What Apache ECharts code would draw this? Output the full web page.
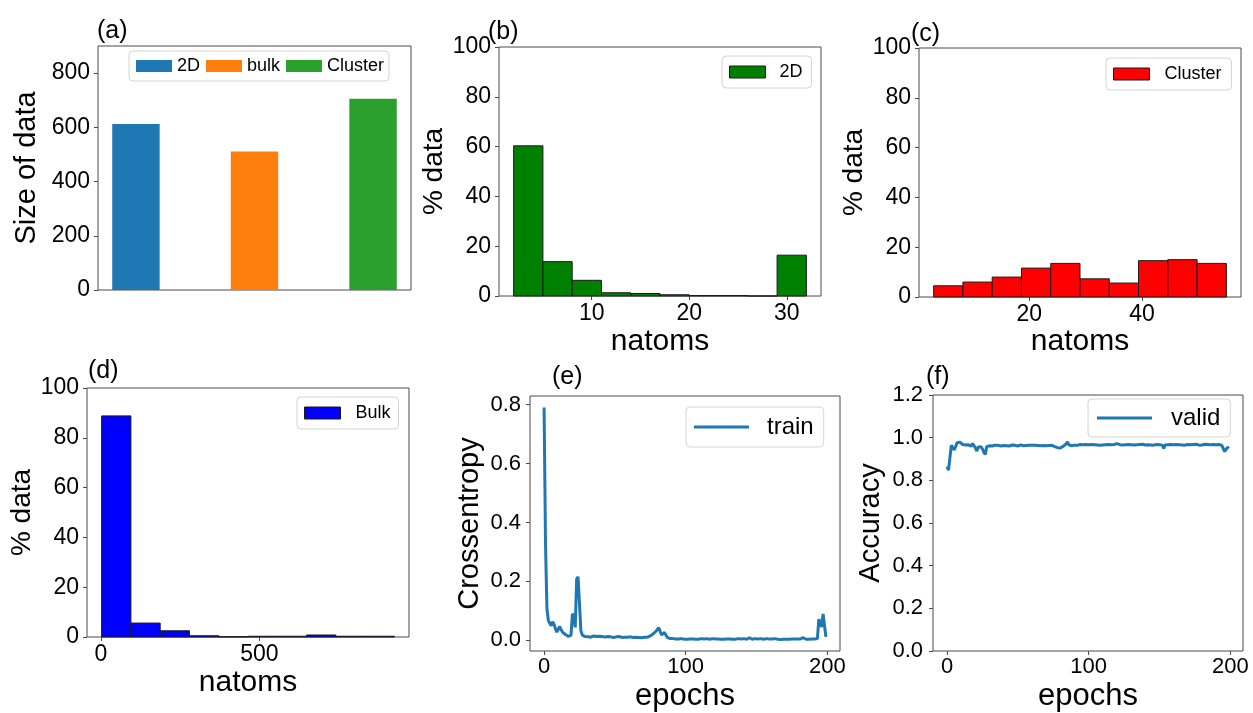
<!DOCTYPE html>
<html>
<head>
<meta charset="utf-8">
<script src="https://cdn.jsdelivr.net/npm/echarts@6/dist/echarts.min.js"></script>
<style>
  html, body { margin: 0; padding: 0; background: #fff; }
  #chart { width: 1253px; height: 713px; }
</style>
</head>
<body>
<div id="chart"></div>
<script>
// ---- (a) dataset sizes ----
const sizeCategories = ['2D', 'bulk', 'Cluster'];
const sizePositions = [0, 1, 2];
const sizeValues = [612, 511, 705];
const sizeTicks = [0, 200, 400, 600, 800];

// ---- (b) 2D structures: natoms histogram ----
const edges2D = [2, 5, 8, 11, 14, 17, 20, 23, 26, 29, 32];
const pct2D = [60.3, 13.8, 6.3, 1.3, 1.0, 0.5, 0.2, 0.2, 0.0, 16.4];
const ticks2D = [10, 20, 30];

// ---- (c) clusters: natoms histogram ----
const edgesCluster = [3, 8.2, 13.4, 18.6, 23.8, 29, 34.2, 39.4, 44.6, 49.8, 55];
const pctCluster = [4.5, 6.0, 8.0, 11.6, 13.5, 7.3, 5.6, 14.6, 15.0, 13.5];
const ticksCluster = [20, 40];

// ---- (d) bulk: natoms histogram ----
const edgesBulk = [2, 94.4, 186.8, 279.2, 371.6, 464, 556.4, 648.8, 741.2, 833.6, 926];
const pctBulk = [88.8, 5.6, 2.5, 0.5, 0.1, 0.3, 0.3, 0.8, 0.3, 0.3];
const ticksBulk = [0, 500];

const pctTicks = [0, 20, 40, 60, 80, 100];

// ---- (e) training loss per epoch ----
const trainLoss = [
  0.790, 0.330, 0.108, 0.068, 0.058, 0.050, 0.063, 0.055, 0.040, 0.028,
  0.034, 0.047, 0.037, 0.028, 0.024, 0.020, 0.017, 0.014, 0.013, 0.017,
  0.090, 0.082, 0.044, 0.208, 0.216, 0.212, 0.032, 0.018, 0.014, 0.013,
  0.013, 0.012, 0.014, 0.011, 0.013, 0.015, 0.012, 0.013, 0.011, 0.014,
  0.012, 0.013, 0.015, 0.011, 0.012, 0.013, 0.010, 0.012, 0.011, 0.010,
  0.011, 0.012, 0.010, 0.013, 0.011, 0.010, 0.012, 0.011, 0.009, 0.011,
  0.010, 0.012, 0.011, 0.010, 0.009, 0.011, 0.012, 0.010, 0.011, 0.009,
  0.010, 0.011, 0.012, 0.011, 0.013, 0.015, 0.018, 0.022, 0.027, 0.031,
  0.036, 0.043, 0.030, 0.019, 0.017, 0.027, 0.021, 0.010, 0.007, 0.006,
  0.005, 0.006, 0.004, 0.005, 0.006, 0.005, 0.004, 0.006, 0.005, 0.004,
  0.005, 0.004, 0.006, 0.005, 0.004, 0.005, 0.006, 0.004, 0.005, 0.004,
  0.005, 0.006, 0.004, 0.005, 0.004, 0.006, 0.005, 0.004, 0.005, 0.006,
  0.008, 0.005, 0.004, 0.005, 0.006, 0.004, 0.005, 0.004, 0.006, 0.005,
  0.004, 0.005, 0.006, 0.004, 0.005, 0.004, 0.005, 0.006, 0.004, 0.005,
  0.004, 0.006, 0.005, 0.004, 0.007, 0.009, 0.005, 0.004, 0.005, 0.006,
  0.004, 0.005, 0.004, 0.006, 0.005, 0.004, 0.005, 0.006, 0.004, 0.005,
  0.003, 0.005, 0.004, 0.006, 0.005, 0.004, 0.005, 0.003, 0.005, 0.004,
  0.006, 0.004, 0.005, 0.004, 0.006, 0.005, 0.004, 0.005, 0.007, 0.005,
  0.004, 0.005, 0.006, 0.009, 0.005, 0.004, 0.005, 0.004, 0.006, 0.005,
  0.004, 0.005, 0.004, 0.006, 0.072, 0.076, 0.045, 0.090, 0.095, 0.012
];
const lossTicks = [0, 0.2, 0.4, 0.6, 0.8];

// ---- (f) validation accuracy per epoch ----
const validAcc = [
  0.865, 0.848, 0.852, 0.965, 0.972, 0.942, 0.958, 0.976, 0.982, 0.979,
  0.974, 0.968, 0.973, 0.966, 0.959, 0.967, 0.962, 0.960, 0.973, 0.968,
  0.952, 0.937, 0.956, 0.965, 0.957, 0.947, 0.931, 0.921, 0.958, 0.962,
  0.962, 0.964, 0.961, 0.963, 0.965, 0.962, 0.964, 0.963, 0.961, 0.964,
  0.963, 0.965, 0.962, 0.964, 0.961, 0.963, 0.966, 0.962, 0.964, 0.963,
  0.961, 0.964, 0.966, 0.963, 0.962, 0.965, 0.963, 0.961, 0.964, 0.962,
  0.965, 0.963, 0.964, 0.961, 0.963, 0.966, 0.962, 0.964, 0.963, 0.965,
  0.962, 0.964, 0.963, 0.961, 0.964, 0.962, 0.958, 0.955, 0.953, 0.956,
  0.952, 0.957, 0.960, 0.963, 0.970, 0.980, 0.966, 0.972, 0.962, 0.958,
  0.965, 0.967, 0.964, 0.966, 0.968, 0.965, 0.967, 0.966, 0.968, 0.965,
  0.967, 0.966, 0.968, 0.965, 0.967, 0.969, 0.966, 0.967, 0.965, 0.968,
  0.966, 0.968, 0.967, 0.965, 0.968, 0.966, 0.967, 0.969, 0.968, 0.970,
  0.972, 0.969, 0.967, 0.968, 0.966, 0.968, 0.967, 0.965, 0.968, 0.966,
  0.967, 0.969, 0.966, 0.968, 0.967, 0.965, 0.968, 0.966, 0.969, 0.967,
  0.966, 0.968, 0.967, 0.969, 0.966, 0.968, 0.965, 0.967, 0.968, 0.966,
  0.967, 0.969, 0.965, 0.950, 0.966, 0.968, 0.967, 0.965, 0.968, 0.966,
  0.967, 0.965, 0.968, 0.966, 0.967, 0.969, 0.966, 0.968, 0.965, 0.967,
  0.968, 0.966, 0.967, 0.965, 0.968, 0.966, 0.969, 0.967, 0.965, 0.968,
  0.966, 0.967, 0.969, 0.966, 0.968, 0.965, 0.967, 0.966, 0.968, 0.966,
  0.967, 0.965, 0.968, 0.966, 0.964, 0.958, 0.935, 0.945, 0.955, 0.950
];
const accTicks = [0, 0.2, 0.4, 0.6, 0.8, 1.0, 1.2];
const epochTicks = [0, 100, 200];

// ---- shared styling ----
const FONT = '"Liberation Sans", Arial, Helvetica, sans-serif';
const FRAME = '#4a4a4a';
const EDGE = '#1a1a1a';
const LINE_BLUE = '#1f77b4';
const BAR_WIDTH = 0.4;

const chart = echarts.init(document.getElementById('chart'), null, { renderer: 'canvas' });

// histogram bin rectangle: [left edge, right edge, height]
function binRect(params, api) {
  const lo = api.coord([api.value(0), api.value(2)]);
  const hi = api.coord([api.value(1), 0]);
  return {
    type: 'rect',
    shape: { x: lo[0], y: lo[1], width: hi[0] - lo[0], height: hi[1] - lo[1] },
    style: api.style()
  };
}

function binData(edges, values) {
  return values.map((v, i) => [edges[i], edges[i + 1], v]);
}

function xAxisCfg(grid, min, max, ticks, opts) {
  opts = opts || {};
  return {
    type: 'value', gridIndex: grid, min: min, max: max,
    name: opts.name || '', nameLocation: 'middle', nameGap: opts.nameGap || 30,
    nameTextStyle: { fontFamily: FONT, fontSize: opts.nameSize || 30, color: '#000', lineHeight: opts.nameSize || 30 },
    axisLine: { show: false, onZero: false },
    axisTick: { show: ticks.length > 0, length: 4, inside: false, customValues: ticks, lineStyle: { color: FRAME } },
    axisLabel: { show: ticks.length > 0, customValues: ticks, margin: opts.margin || 6, fontFamily: FONT,
      fontSize: opts.labelSize || 23, color: '#000', lineHeight: opts.labelSize || 23,
      formatter: opts.formatter || (v => String(v)) },
    splitLine: { show: false }
  };
}

function yAxisCfg(grid, min, max, ticks, opts) {
  opts = opts || {};
  return {
    type: 'value', gridIndex: grid, min: min, max: max,
    name: opts.name, nameLocation: 'middle', nameGap: opts.nameGap,
    nameTextStyle: { fontFamily: FONT, fontSize: opts.nameSize || 28, color: '#000', lineHeight: opts.nameSize || 28 },
    axisLine: { show: false, onZero: false },
    axisTick: { show: true, length: 4, inside: false, customValues: ticks, lineStyle: { color: FRAME } },
    axisLabel: { customValues: ticks, margin: opts.margin || 8, fontFamily: FONT,
      fontSize: opts.labelSize || 23, color: '#000',
      formatter: opts.formatter || (v => String(v)) },
    splitLine: { show: false }
  };
}

function gridCfg(left, top, width, height) {
  return { left: left, top: top, width: width, height: height, show: true,
    borderColor: FRAME, borderWidth: 1, backgroundColor: 'transparent', containLabel: false };
}

function boxLegend(items, left, top, size, gap, padding, extra) {
  return Object.assign({
    data: items, left: left, top: top, orient: 'horizontal',
    backgroundColor: 'rgba(255,255,255,0.85)', borderColor: '#d4d4d4', borderWidth: 1, borderRadius: 4,
    padding: padding, itemGap: 9, itemWidth: 36, itemHeight: 12, icon: 'rect',
    selectedMode: false,
    textStyle: { fontFamily: FONT, fontSize: size, color: '#000', lineHeight: size + 2, padding: [0, 0, 0, gap] }
  }, extra || {});
}

function patchItem(name, color, edge) {
  const style = { color: color };
  if (edge) { style.borderColor = edge; style.borderWidth = 1; }
  return { name: name, icon: 'rect', itemStyle: style };
}

function panelTitle(text, left, top) {
  return { text: text, left: left, top: top, padding: 0,
    textStyle: { fontFamily: FONT, fontSize: 25, fontWeight: 'normal', color: '#000' } };
}

const fmt1 = v => v.toFixed(1);

const sizeColors = ['#1f77b4', '#ff7f0e', '#2ca02c'];
const histColors = { '2D': '#008000', 'Cluster': '#ff0000', 'Bulk': '#0000ff' };

const option = {
  animation: false,
  backgroundColor: '#fff',
  title: [
    panelTitle('(a)', 97, 19),
    panelTitle('(b)', 488, 20),
    panelTitle('(c)', 911, 22),
    panelTitle('(d)', 88, 359),
    panelTitle('(e)', 552, 365),
    panelTitle('(f)', 926, 365)
  ],
  legend: [
    boxLegend(sizeCategories.map((n, i) => patchItem(n, sizeColors[i])), 129, 51, 18, 0, [5, 5, 5, 7], { itemGap: 6 }),
    boxLegend([patchItem('2D', histColors['2D'], EDGE)], 722, 56, 18, 9, [6, 9, 6, 7]),
    boxLegend([patchItem('Cluster', histColors['Cluster'], EDGE)], 1106, 58, 18, 10, [6, 10, 6, 7]),
    boxLegend([patchItem('Bulk', histColors['Bulk'], EDGE)], 297, 397, 18, 10, [6, 8, 6, 7]),
    boxLegend([patchItem('train', LINE_BLUE)], 686, 407, 24, 13, [7, 10, 7, 8], { itemWidth: 55, itemHeight: 3 }),
    boxLegend([patchItem('valid', LINE_BLUE)], 1088, 399, 24, 14, [6, 10, 6, 9], { itemWidth: 55, itemHeight: 3 })
  ],
  grid: [
    gridCfg(98, 46, 313, 244),
    gridCfg(499, 47, 322, 249),
    gridCfg(919, 48, 322, 249),
    gridCfg(87, 388, 322, 249),
    gridCfg(530, 396, 310, 256),
    gridCfg(933, 395, 310, 257)
  ],
  xAxis: [
    xAxisCfg(0, -0.32, 2.32, []),
    xAxisCfg(1, 0.5, 33.5, ticks2D, { name: 'natoms', nameGap: 31 }),
    xAxisCfg(2, 0.4, 57.6, ticksCluster, { name: 'natoms', nameGap: 30 }),
    xAxisCfg(3, -44.2, 972.2, ticksBulk, { name: 'natoms', nameGap: 31 }),
    xAxisCfg(4, -9.95, 208.95, epochTicks, { name: 'epochs', nameGap: 30, nameSize: 31, labelSize: 22, margin: 5 }),
    xAxisCfg(5, -9.95, 208.95, epochTicks, { name: 'epochs', nameGap: 30, nameSize: 31, labelSize: 22, margin: 5 })
  ],
  yAxis: [
    yAxisCfg(0, 0, 900, sizeTicks, { name: 'Size of data', nameGap: 57, nameSize: 29 }),
    yAxisCfg(1, 0, 100, pctTicks, { name: '% data', nameGap: 44 }),
    yAxisCfg(2, 0, 100, pctTicks, { name: '% data', nameGap: 45 }),
    yAxisCfg(3, 0, 100, pctTicks, { name: '% data', nameGap: 47 }),
    yAxisCfg(4, -0.036, 0.829, lossTicks, { name: 'Crossentropy', nameGap: 46, nameSize: 29, labelSize: 22, margin: 9, formatter: fmt1 }),
    yAxisCfg(5, 0, 1.2, accTicks, { name: 'Accuracy', nameGap: 48, nameSize: 29, labelSize: 22, margin: 10, formatter: fmt1 })
  ],
  series: [
    // (a) one bar per dataset so each gets its own legend entry
    ...sizeCategories.map((name, i) => ({
      name: name, type: 'custom', xAxisIndex: 0, yAxisIndex: 0,
      itemStyle: { color: sizeColors[i] },
      encode: { x: [0, 1], y: 2 },
      renderItem: binRect,
      data: [[sizePositions[i] - BAR_WIDTH / 2, sizePositions[i] + BAR_WIDTH / 2, sizeValues[i]]]
    })),
    {
      name: '2D', type: 'custom', xAxisIndex: 1, yAxisIndex: 1,
      itemStyle: { color: histColors['2D'], borderColor: EDGE, borderWidth: 1 },
      encode: { x: [0, 1], y: 2 }, renderItem: binRect,
      data: binData(edges2D, pct2D)
    },
    {
      name: 'Cluster', type: 'custom', xAxisIndex: 2, yAxisIndex: 2,
      itemStyle: { color: histColors['Cluster'], borderColor: EDGE, borderWidth: 1 },
      encode: { x: [0, 1], y: 2 }, renderItem: binRect,
      data: binData(edgesCluster, pctCluster)
    },
    {
      name: 'Bulk', type: 'custom', xAxisIndex: 3, yAxisIndex: 3,
      itemStyle: { color: histColors['Bulk'], borderColor: EDGE, borderWidth: 1 },
      encode: { x: [0, 1], y: 2 }, renderItem: binRect,
      data: binData(edgesBulk, pctBulk)
    },
    {
      name: 'train', type: 'line', xAxisIndex: 4, yAxisIndex: 4,
      symbol: 'none', showSymbol: false,
      lineStyle: { color: LINE_BLUE, width: 3 }, itemStyle: { color: LINE_BLUE },
      data: trainLoss.map((v, epoch) => [epoch, v])
    },
    {
      name: 'valid', type: 'line', xAxisIndex: 5, yAxisIndex: 5,
      symbol: 'none', showSymbol: false,
      lineStyle: { color: LINE_BLUE, width: 3 }, itemStyle: { color: LINE_BLUE },
      data: validAcc.map((v, epoch) => [epoch, v])
    }
  ]
};

chart.setOption(option);
</script>
</body>
</html>
